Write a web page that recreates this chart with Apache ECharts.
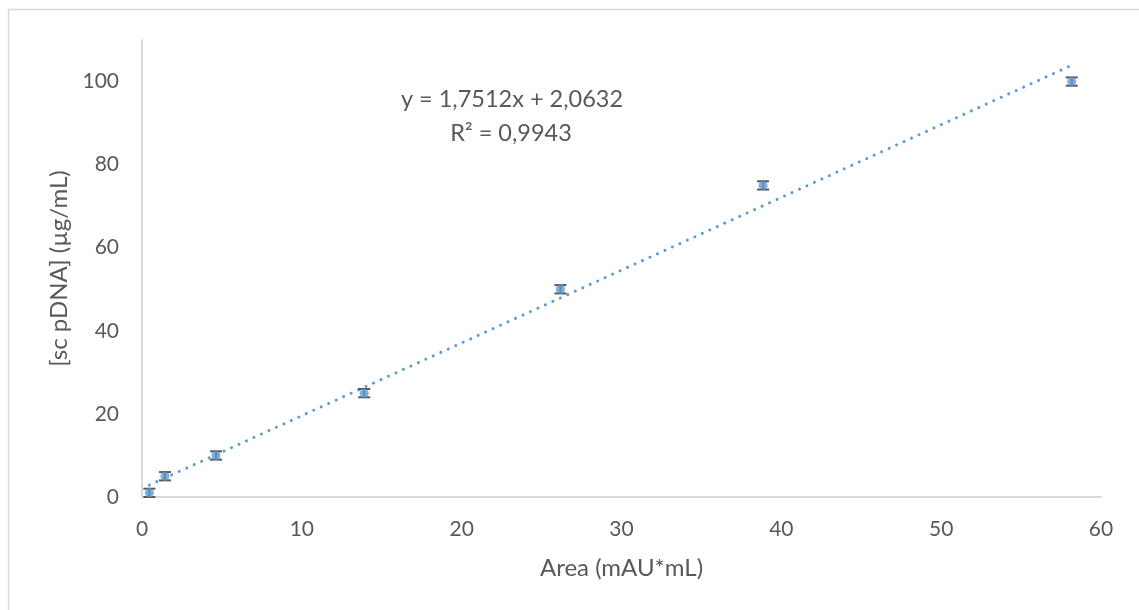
<!DOCTYPE html>
<html>
<head>
<meta charset="utf-8">
<script src="https://cdn.jsdelivr.net/npm/echarts@6/dist/echarts.min.js"></script>
<style>
html,body{margin:0;padding:0;background:#fff;}
#chart{width:1139px;height:610px;}
</style>
</head>
<body>
<div id="chart"></div>
<script>
// Data
const areaX = [0.46, 1.44, 4.63, 13.9, 26.18, 38.86, 58.17];
const concY = [1, 5, 10, 25, 50, 75, 100];
const errY = [1, 1, 1, 1, 1, 1, 1];
const trendX = [0.46, 58.17];
const trendY = [2.87, 103.93];
const xTicks = [0, 10, 20, 30, 40, 50, 60];
const yTicks = [0, 20, 40, 60, 80, 100];
const eqLine1 = 'y = 1,7512x + 2,0632';
const eqLine2 = 'R² = 0,9943';
const xTitle = 'Area (mAU*mL)';
const yTitle = '[sc pDNA] (µg/mL)';

const FONT = 'Lato';
const TXT = '#595959';
const BLUE = '#5B9BD5';

const points = areaX.map((x, i) => [x, concY[i]]);
const errData = areaX.map((x, i) => [x, concY[i] - errY[i], concY[i] + errY[i]]);
const trend = trendX.map((x, i) => [x, trendY[i]]);

const chart = echarts.init(document.getElementById('chart'));
chart.setOption({
  animation: false,
  backgroundColor: '#fff',
  grid: {left: 142, right: 38, top: 40, bottom: 113, containLabel: false},
  xAxis: {
    type: 'value', min: xTicks[0], max: xTicks[xTicks.length - 1], interval: 10,
    axisLine: {show: true, lineStyle: {color: '#d9d9d9', width: 2}},
    axisTick: {show: false},
    splitLine: {show: false},
    axisLabel: {color: TXT, fontFamily: FONT, fontSize: 21, margin: 22},
    name: xTitle, nameLocation: 'middle', nameGap: 59,
    nameTextStyle: {color: TXT, fontFamily: FONT, fontSize: 24}
  },
  yAxis: {
    type: 'value', min: 0, max: 110, interval: 20,
    axisLine: {show: true, lineStyle: {color: '#d9d9d9', width: 2}},
    axisTick: {show: false},
    splitLine: {show: false},
    axisLabel: {color: TXT, fontFamily: FONT, fontSize: 21, margin: 23,
      formatter: v => yTicks.indexOf(v) >= 0 ? String(v) : ''},
    name: yTitle, nameLocation: 'middle', nameGap: 71, nameRotate: 90,
    nameTextStyle: {color: TXT, fontFamily: FONT, fontSize: 24}
  },
  graphic: [
    {type: 'rect', shape: {x: 8.5, y: 9.5, width: 1200, height: 700},
      style: {fill: 'none', stroke: '#d9d9d9', lineWidth: 1.5}, silent: true, z: -1},
    {type: 'text', x: 512, y: 99, style: {text: eqLine1, fill: TXT, font: '23.5px ' + FONT,
      textAlign: 'center', textVerticalAlign: 'middle'}, z: 10},
    {type: 'text', x: 511, y: 133, style: {text: eqLine2, fill: TXT, font: '23.5px ' + FONT,
      textAlign: 'center', textVerticalAlign: 'middle'}, z: 10}
  ],
  series: [
    {
      type: 'line', data: trend, showSymbol: false, symbol: 'none', z: 2,
      lineStyle: {color: BLUE, width: 3, type: [0.01, 8.2], cap: 'round'}
    },
    {
      type: 'custom', data: errData, z: 3,
      renderItem: function (params, api) {
        const x = api.value(0);
        const lo = api.coord([x, api.value(1)]);
        const hi = api.coord([x, api.value(2)]);
        const hw = 6;
        const st = {stroke: '#595959', lineWidth: 2};
        return {type: 'group', children: [
          {type: 'line', shape: {x1: lo[0], y1: lo[1], x2: hi[0], y2: hi[1]}, style: st},
          {type: 'line', shape: {x1: lo[0] - hw, y1: lo[1], x2: lo[0] + hw, y2: lo[1]}, style: st},
          {type: 'line', shape: {x1: hi[0] - hw, y1: hi[1], x2: hi[0] + hw, y2: hi[1]}, style: st}
        ]};
      }
    },
    {
      type: 'scatter', data: points, symbol: 'circle', symbolSize: 9, z: 4,
      itemStyle: {color: BLUE}
    }
  ]
});
</script>
</body>
</html>
